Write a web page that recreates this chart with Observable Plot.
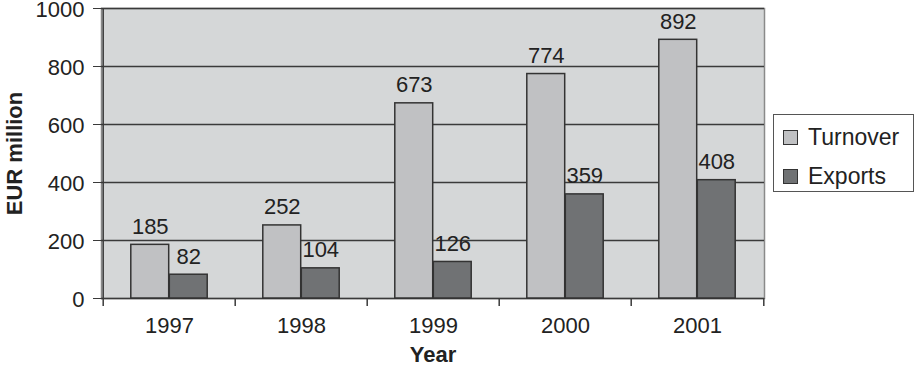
<!DOCTYPE html>
<html>
<head>
<meta charset="utf-8">
<script src="https://cdn.jsdelivr.net/npm/d3@7"></script>
<script src="https://cdn.jsdelivr.net/npm/@observablehq/plot@0.6"></script>
<style>
  html, body { margin: 0; padding: 0; background: #fff; }
  #wrap { position: relative; width: 920px; height: 366px; font-family: "Liberation Sans", Arial, sans-serif; }
  #legend { position: absolute; left: 773px; top: 114px; width: 139px; height: 76px; border: 1.5px solid #555; background: #fff; box-sizing: content-box; }
  .item { position: absolute; left: 9px; display: flex; align-items: center; font-size: 23px; color: #222; line-height: 26px; }
  .sw { width: 13px; height: 13px; border: 1px solid #333; margin-right: 10px; }
</style>
</head>
<body>
<div id="wrap"></div>
<script>
const years = ["1997", "1998", "1999", "2000", "2001"];
const turnover = [185, 252, 673, 774, 892];
const exports_ = [82, 104, 126, 359, 408];
const seriesNames = ["Turnover", "Exports"];
const seriesColors = ["#c0c1c3", "#707274"];
const yTicks = [0, 200, 400, 600, 800, 1000];

const rowsT = years.map((y, i) => ({year: y, value: turnover[i]}));
const rowsE = years.map((y, i) => ({year: y, value: exports_[i]}));

const W = 920, H = 366, mL = 101, mR = 156, mT = 8, mB = 68;
const step = (W - mL - mR) / years.length;
const barW = 38.5;
const gap = (step - 2 * barW) / 2;
const font = "Liberation Sans, Arial, sans-serif";
const ink = "#222";
const fs = 22;

const chart = Plot.plot({
  width: W, height: H,
  marginLeft: mL, marginRight: mR, marginTop: mT, marginBottom: mB,
  style: {fontFamily: font, fontSize: fs + "px", color: ink, background: "#fff", overflow: "visible"},
  x: {type: "band", domain: years, padding: 0},
  y: {domain: [0, 1000]},
  marks: [
    Plot.frame({fill: "#d5d7d8", stroke: "#8a8a8a", strokeWidth: 1.5}),
    Plot.ruleY(yTicks, {stroke: "#3a3a3a", strokeWidth: 1.5}),
    Plot.barY(rowsT, {x: "year", y: "value", fill: seriesColors[0], stroke: "#333", strokeWidth: 1.5,
      insetLeft: gap, insetRight: gap + barW}),
    Plot.barY(rowsE, {x: "year", y: "value", fill: seriesColors[1], stroke: "#333", strokeWidth: 1.5,
      insetLeft: gap + barW, insetRight: gap}),
    Plot.text(rowsT, {x: "year", y: "value", text: d => String(d.value), dx: -barW / 2, dy: -11,
      lineAnchor: "bottom", fill: ink, fontSize: fs}),
    Plot.text(rowsE, {x: "year", y: "value", text: d => String(d.value), dx: barW / 2, dy: -11,
      lineAnchor: "bottom", fill: ink, fontSize: fs}),
    // left axis line
    Plot.ruleX([years[0]], {x: d => d, y1: 1000, y2: 0, dx: -step / 2, insetBottom: -8, stroke: "#3a3a3a", strokeWidth: 1.5}),
    // category boundary ticks
    Plot.ruleX(years.slice(1), {x: d => d, y1: 0, y2: 0, dx: -step / 2, insetBottom: -8, stroke: "#3a3a3a", strokeWidth: 1.5}),
    Plot.ruleX([years[years.length - 1]], {x: d => d, y1: 0, y2: 0, dx: step / 2, insetBottom: -8, stroke: "#3a3a3a", strokeWidth: 1.5}),
    Plot.axisY(yTicks, {tickSize: 8, tickPadding: 9, tickFormat: d => String(d), stroke: "#3a3a3a", fill: ink, fontSize: fs,
      label: "EUR million", labelAnchor: "center", labelOffset: 95, labelArrow: "none"}),
    Plot.axisX(years, {tickSize: 0, tickPadding: 19, fill: ink, fontSize: fs,
      label: "Year", labelAnchor: "center", labelOffset: 63, labelArrow: "none"})
  ]
});

const wrap = document.getElementById("wrap");
wrap.appendChild(chart);

// nudge y tick labels slightly down, as in the reference
chart.querySelectorAll("[aria-label='y-axis tick label']").forEach(g => {
  g.setAttribute("transform", (g.getAttribute("transform") || "") + " translate(0,1.5)");
});

// bold axis titles
chart.querySelectorAll("[aria-label='x-axis label'] text, [aria-label='y-axis label'] text").forEach(t => {
  t.setAttribute("font-weight", "bold");
  t.style.fontWeight = "bold";
});

const legend = document.createElement("div");
legend.id = "legend";
seriesNames.forEach((name, i) => {
  const item = document.createElement("div");
  item.className = "item";
  item.style.top = (i === 0 ? 9 : 48) + "px";
  const sw = document.createElement("div");
  sw.className = "sw";
  sw.style.background = seriesColors[i];
  item.appendChild(sw);
  const label = document.createElement("span");
  label.textContent = name;
  item.appendChild(label);
  legend.appendChild(item);
});
wrap.appendChild(legend);
</script>
</body>
</html>
